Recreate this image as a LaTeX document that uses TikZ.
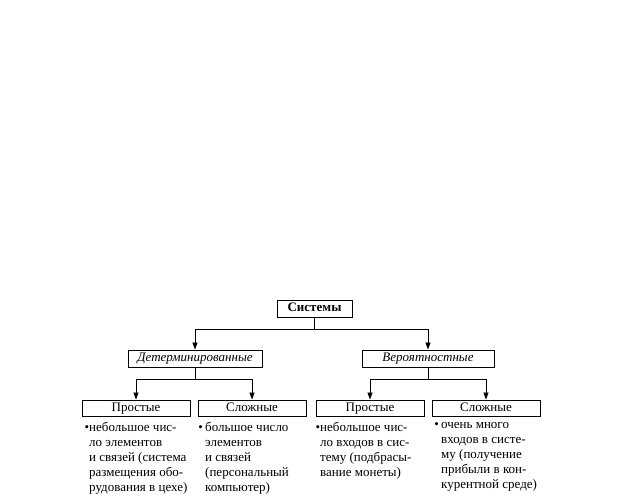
\documentclass[tikz,border=0pt]{standalone}
\usepackage{fontspec}
\setmainfont{Liberation Serif}
\usetikzlibrary{arrows.meta}
\begin{document}
\begin{tikzpicture}[x=1pt,y=-1pt,
  box/.style={draw,line width=0.9pt,inner sep=0pt,text height=9pt,text depth=3pt,font=\fontsize{13}{14}\selectfont},
  conn/.style={line width=0.8pt},
  arr/.style={conn,-{Triangle[length=7pt,width=5pt]}},
  desc/.style={anchor=north west,align=left,inner sep=0pt,font=\fontsize{13}{15}\selectfont}]
\useasboundingbox (0,0) rectangle (624,497);
\fill[white] (0,0) rectangle (624,497);
\node[box,minimum width=75pt,minimum height=17pt,font=\fontsize{13}{14}\selectfont\bfseries] (sys) at (314.5,308.5) {Системы};
\node[box,minimum width=134pt,minimum height=17pt,font=\fontsize{13}{14}\selectfont\itshape] (det) at (195,358.5) {Детерминированные};
\node[box,minimum width=132pt,minimum height=17pt,font=\fontsize{13}{14}\selectfont\itshape] (ver) at (428,358.5) {Вероятностные};
\node[box,minimum width=108pt,minimum height=16pt] (p1) at (136,408) {Простые};
\node[box,minimum width=108pt,minimum height=16pt] (s1) at (252,408) {Сложные};
\node[box,minimum width=108pt,minimum height=16pt] (p2) at (370,408) {Простые};
\node[box,minimum width=108pt,minimum height=16pt] (s2) at (486,408) {Сложные};
\coordinate (j0) at (314.5,329);
\coordinate (j1) at (195,379);
\coordinate (j2) at (428,379);
\draw[conn] (sys.south) -- (j0);
\draw[arr] (j0) -| (det.north);
\draw[arr] (j0) -| (ver.north);
\draw[conn] (det.south) -- (j1);
\draw[arr] (j1) -| (p1.north);
\draw[arr] (j1) -| (s1.north);
\draw[conn] (ver.south) -- (j2);
\draw[arr] (j2) -| (p2.north);
\draw[arr] (j2) -| (s2.north);
\node[desc] (t1) at (89,422) {\llap{\textbullet}небольшое чис-\\ ло элементов\\ и связей (система\\ размещения обо-\\ рудования в цехе)};
\node[desc] (t2) at (205,422) {\llap{\textbullet\,}большое число\\ элементов\\ и связей\\ (персональный\\ компьютер)};
\node[desc] (t3) at (320,422) {\llap{\textbullet}небольшое чис-\\ ло входов в сис-\\ тему (подбрасы-\\ вание монеты)};
\node[desc] (t4) at (441,422) {\llap{\textbullet\,}очень много\\ входов в систе-\\ му (получение\\ прибыли в кон-\\ курентной среде)};
\end{tikzpicture}
\end{document}
